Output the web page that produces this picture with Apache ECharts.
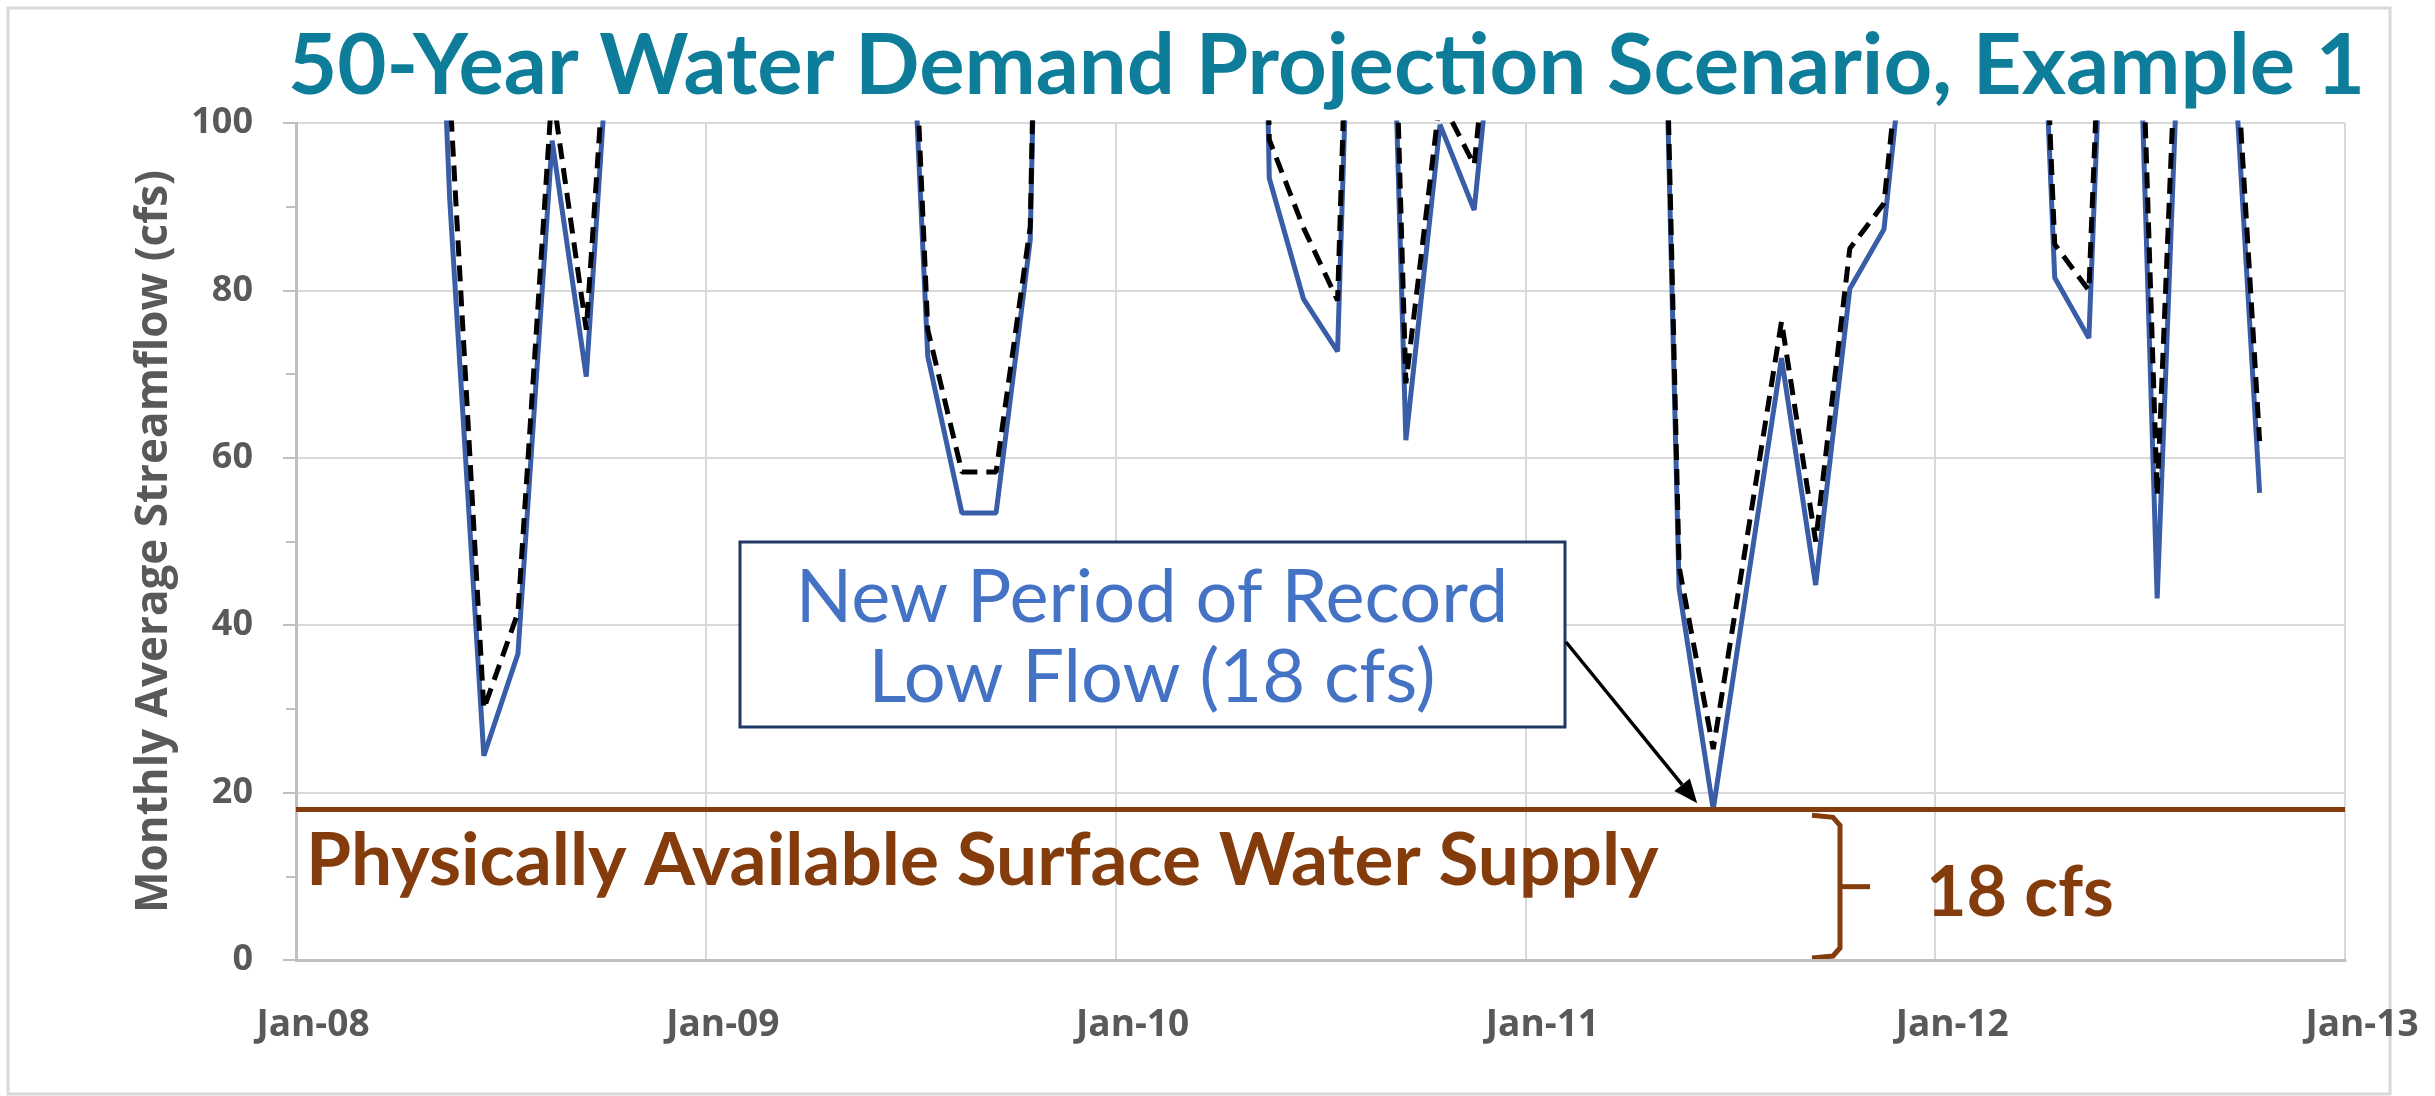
<!DOCTYPE html>
<html>
<head>
<meta charset="utf-8">
<title>50-Year Water Demand Projection Scenario, Example 1</title>
<script src="https://cdn.jsdelivr.net/npm/echarts@6/dist/echarts.min.js"></script>
<style>
  html, body { margin: 0; padding: 0; background: #fff; }
  #main { width: 2435px; height: 1096px; }
</style>
</head>
<body>
<div id="main"></div>
<script>
// monthly values, Jan-08 .. Oct-12, plotted at mid-month
// anything above 100 runs off the top of the plot (clipped)
const tickLabels = ['Jan-08', 'Jan-09', 'Jan-10', 'Jan-11', 'Jan-12', 'Jan-13']

// streamflow with the 50-year demand taken out (solid blue)
const projected = [
  260, 300, 280, 190, 91, 24.4, 36.6, 97.9, 69.7, 132, 200, 220,
  240, 260, 300, 280, 220, 162, 72.1, 53.4, 53.4, 86, 280, 250,
  230, 260, 310, 300, 93.4, 79, 72.7, 205, 62.1, 99.8, 89.6, 130,
  220, 260, 300, 216, 44.4, 18, 45, 71.9, 44.8, 80.2, 87.3, 126,
  220, 260, 180, 81.5, 74.3, 179, 43.2, 151, 125.5, 55.8
]
// streamflow as recorded (dashed black)
const historical = [
  265, 305, 285, 200, 104, 30, 41.5, 104, 75.3, 136, 205, 225,
  245, 265, 305, 285, 225, 170, 75.3, 58.3, 58.3, 87.6, 285, 255,
  235, 265, 315, 305, 98, 87.5, 78.8, 210, 68.9, 103, 95, 135,
  225, 265, 305, 220, 47, 25.2, 50.7, 76.3, 50, 85, 90.4, 130,
  225, 265, 185, 85.5, 80, 183, 55.5, 155, 130, 62
]

const supplyCfs = 18
const recordLowMonth = 41 // Jun-11

const brown = '#843C0C'
const grey = '#595959'

const toPoints = arr => arr.map((v, i) => [i + 0.5, v])

const chart = echarts.init(document.getElementById('main'))

const option = {
  animation: false,
  backgroundColor: '#fff',
  title: {
    text: '50-Year Water Demand Projection Scenario, Example 1',
    left: 288,
    top: 24,
    padding: 0,
    textStyle: { color: '#0E7D99', fontFamily: 'Lato', fontWeight: 'bold', fontSize: 85 }
  },
  grid: { left: 296, right: 90, top: 123, bottom: 136 },
  xAxis: {
    type: 'value',
    min: 0,
    max: 60,
    interval: 12,
    axisLine: { show: true, lineStyle: { color: '#BFBFBF', width: 3 } },
    axisTick: { show: false },
    splitLine: { show: true, lineStyle: { color: '#D9D9D9', width: 2 } },
    axisLabel: {
      formatter: v => tickLabels[v / 12],
      color: grey,
      fontFamily: 'Open Sans',
      fontWeight: 'bold',
      fontSize: 37,
      margin: 47,
      padding: [0, 0, 0, 34]
    }
  },
  yAxis: {
    type: 'value',
    min: 0,
    max: 100,
    interval: 20,
    name: 'Monthly Average Streamflow (cfs)',
    nameLocation: 'middle',
    nameGap: 120,
    nameTextStyle: { color: grey, fontFamily: 'Open Sans', fontWeight: 'bold', fontSize: 44 },
    axisLine: { show: true, lineStyle: { color: '#BFBFBF', width: 3 } },
    axisTick: { show: true, length: 13, lineStyle: { color: '#BFBFBF', width: 2 } },
    minorTick: { show: true, splitNumber: 2, length: 10, lineStyle: { color: '#BFBFBF', width: 2 } },
    splitLine: { lineStyle: { color: '#D9D9D9', width: 2 } },
    axisLabel: {
      color: grey,
      fontFamily: 'Open Sans',
      fontWeight: 'bold',
      fontSize: 36,
      margin: 43
    }
  },
  series: [
    {
      name: 'Projected',
      type: 'line',
      data: toPoints(projected),
      symbol: 'none',
      clip: true,
      lineStyle: { color: '#3A5DA8', width: 5 },
      markLine: {
        silent: true,
        symbol: 'none',
        label: { show: false },
        lineStyle: { color: brown, width: 5, type: 'solid' },
        data: [{ yAxis: supplyCfs }]
      }
    },
    {
      name: 'Historical',
      type: 'line',
      data: toPoints(historical),
      symbol: 'none',
      clip: true,
      lineStyle: { color: '#000', width: 5, type: [16, 9] }
    }
  ]
}
chart.setOption(option)

// annotations placed from the axes
const px = (x, y) => chart.convertToPixel({ gridIndex: 0 }, [x, y])
const [lowX, lowY] = px(recordLowMonth + 0.5, projected[recordLowMonth])
const supplyY = px(0, supplyCfs)[1]
const zeroY = px(0, 0)[1]

const tip = [lowX - 16, lowY - 6]
const tail = [1566, 642]
const dx = tip[0] - tail[0], dy = tip[1] - tail[1]
const len = Math.sqrt(dx * dx + dy * dy)
const ux = dx / len, uy = dy / len
const headL = 24, headW = 10
const base = [tip[0] - ux * headL, tip[1] - uy * headL]

const bx0 = 1812, bxv = 1840, bxt = 1870
const byt = supplyY + 6, byb = zeroY - 2, bym = (byt + byb) / 2

chart.setOption({
  graphic: [
    {
      type: 'rect', silent: true, z: -1,
      shape: { x: 8, y: 8, width: 2382, height: 1086 },
      style: { fill: 'none', stroke: '#D9D9D9', lineWidth: 3 }
    },
    {
      type: 'text', silent: true,
      style: {
        text: 'Physically Available Surface Water Supply',
        x: 306, y: 861, align: 'left', verticalAlign: 'middle',
        fill: brown, fontFamily: 'Lato', fontWeight: 'bold', fontSize: 73
      }
    },
    {
      type: 'text', silent: true,
      style: {
        text: '18 cfs',
        x: 1926, y: 893, align: 'left', verticalAlign: 'middle',
        fill: brown, fontFamily: 'Lato', fontWeight: 'bold', fontSize: 70
      }
    },
    {
      type: 'polyline', silent: true,
      shape: { points: [[bx0, byt], [bxv - 7, byt + 2], [bxv, byt + 10], [bxv, byb - 10], [bxv - 7, byb - 2], [bx0, byb]] },
      style: { stroke: brown, lineWidth: 5, fill: 'none' }
    },
    {
      type: 'line', silent: true,
      shape: { x1: bxv, y1: bym, x2: bxt, y2: bym },
      style: { stroke: brown, lineWidth: 5 }
    },
    {
      type: 'rect', silent: true, z: 10,
      shape: { x: 740, y: 542, width: 825, height: 185 },
      style: { fill: '#fff', stroke: '#203864', lineWidth: 3 }
    },
    {
      type: 'text', silent: true, z: 11,
      style: {
        text: 'New Period of Record',
        x: 1152, y: 598, align: 'center', verticalAlign: 'middle',
        fill: '#4472C4', fontFamily: 'Lato', fontSize: 74
      }
    },
    {
      type: 'text', silent: true, z: 11,
      style: {
        text: 'Low Flow (18 cfs)',
        x: 1152, y: 678, align: 'center', verticalAlign: 'middle',
        fill: '#4472C4', fontFamily: 'Lato', fontSize: 74
      }
    },
    {
      type: 'line', silent: true, z: 11,
      shape: { x1: tail[0], y1: tail[1], x2: base[0], y2: base[1] },
      style: { stroke: '#000', lineWidth: 3.5 }
    },
    {
      type: 'polygon', silent: true, z: 11,
      shape: {
        points: [
          tip,
          [base[0] - uy * headW, base[1] + ux * headW],
          [base[0] + uy * headW, base[1] - ux * headW]
        ]
      },
      style: { fill: '#000' }
    }
  ]
})
</script>
</body>
</html>
